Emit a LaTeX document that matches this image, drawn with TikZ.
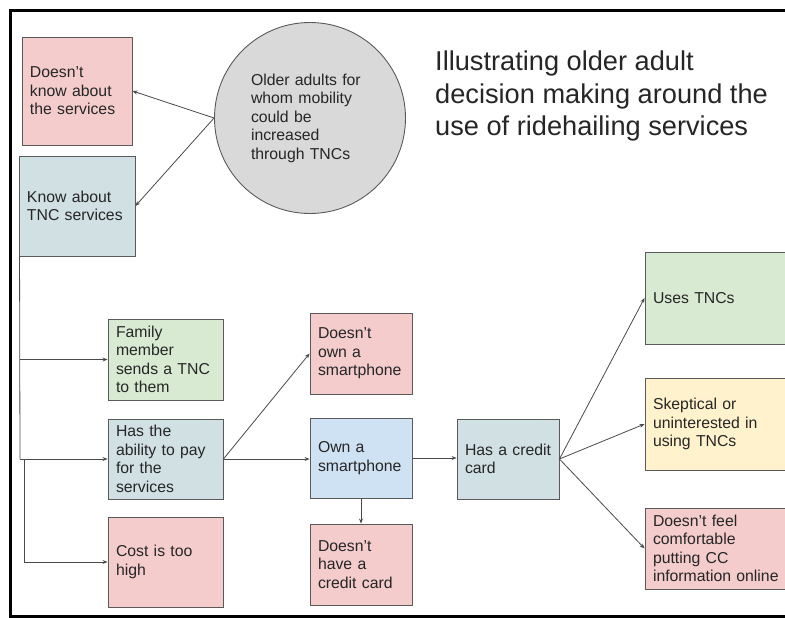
\documentclass[tikz,border=0pt]{standalone}
\usepackage{fontspec}
\setmainfont{Liberation Sans}
\usetikzlibrary{arrows.meta}
\definecolor{pinkf}{HTML}{F4CCCC}
\definecolor{grayblue}{HTML}{D0E0E3}
\definecolor{greenf}{HTML}{D9EAD3}
\definecolor{bluef}{HTML}{CFE2F3}
\definecolor{yellowf}{HTML}{FFF2CC}
\definecolor{circf}{HTML}{D9D9D9}
\definecolor{bordc}{HTML}{5A5A5A}
\definecolor{linec}{HTML}{4A4A4A}
\definecolor{textc}{HTML}{262626}
\begin{document}
\begin{tikzpicture}[x=1pt,y=-1pt,
  box/.style={draw=bordc, line width=0.9pt, rectangle, inner xsep=8pt, inner ysep=0pt,
    align=left, text=textc, font=\fontsize{15.8}{18.5}\selectfont},
  conn/.style={draw=linec, line width=0.8pt, -{Stealth[length=5pt,width=4pt]}},
  plainline/.style={draw=linec, line width=0.8pt}]
\useasboundingbox (0,0) rectangle (785,618);
\clip (0,0) rectangle (785,618);
\fill[white] (0,0) rectangle (785,618);

% frame
\draw[line width=3pt, black] (790,11) -- (10,11) -- (10,616) -- (790,616);

% circle and title
\node[draw=bordc, line width=0.9pt, fill=circf, circle, minimum size=191pt, inner sep=0pt,
  text width=118pt, align=left, text=textc, font=\fontsize{15.8}{18.5}\selectfont]
  (c) at (310,118) {Older adults for\\whom mobility\\could be\\increased\\through TNCs};
\node[anchor=west, align=left, inner sep=0pt, text=textc, font=\fontsize{27.2}{32.5}\selectfont]
  (title) at (435,96) {Illustrating older adult\\decision making around the\\use of ridehailing services};

% boxes
\node[box, fill=pinkf, minimum width=110pt, text width=94pt, minimum height=108pt]
  (dk) at (77,91) {Doesn’t\\know about\\the services};
\node[box, fill=grayblue, minimum width=116pt, text width=100pt, minimum height=100pt]
  (kn) at (77,206) {Know about\\TNC services};
\node[box, fill=greenf, minimum width=115pt, text width=99pt, minimum height=81pt]
  (fam) at (165.5,359.5) {Family\\member\\sends a TNC\\to them};
\node[box, fill=grayblue, minimum width=115pt, text width=99pt, minimum height=80pt]
  (abil) at (165.5,459) {Has the\\ability to pay\\for the\\services};
\node[box, fill=pinkf, minimum width=115pt, text width=99pt, minimum height=90pt]
  (cost) at (165.5,562) {Cost is too\\high};
\node[box, fill=pinkf, minimum width=102pt, text width=86pt, minimum height=81pt]
  (dos) at (361,353.5) {Doesn’t\\own a\\smartphone};
\node[box, fill=bluef, minimum width=102pt, text width=86pt, minimum height=80pt]
  (own) at (361,458) {Own a\\smartphone};
\node[box, fill=pinkf, minimum width=102pt, text width=86pt, minimum height=81pt]
  (dhc) at (361,564.5) {Doesn’t\\have a\\credit card};
\node[box, fill=grayblue, minimum width=102pt, text width=86pt, minimum height=80pt]
  (hcc) at (508,459) {\mbox{Has a credit}\\card};
\node[box, fill=greenf, minimum width=145pt, text width=129pt, minimum height=92pt]
  (uses) at (717.5,298) {Uses TNCs};
\node[box, fill=yellowf, minimum width=145pt, text width=129pt, minimum height=92pt]
  (skep) at (717.5,424) {Skeptical or\\uninterested in\\using TNCs};
\node[box, fill=pinkf, minimum width=145pt, text width=129pt, minimum height=81pt]
  (dfeel) at (717.5,548.5) {Doesn’t feel\\comfortable\\putting CC\\\mbox{information online}};

% connectors
\draw[conn] (c.west) -- (dk.east);
\draw[conn] (c.west) -- (kn.east);

\coordinate (jf) at (20,359.5);
\coordinate (ja) at (20,459);
\coordinate (jc) at (24,459);
\draw[plainline] ([xshift=1pt]kn.south west) -- (ja);
\draw[conn] (jf) -- (fam.west);
\draw[conn] (ja) -- (abil.west);
\draw[conn] (jc) |- (cost.west);

\draw[conn] (abil.east) -- (dos.west);
\draw[conn] (abil.east) -- (abil.east -| own.west);
\draw[conn] (own.south) -- (dhc.north);
\draw[conn] (own.east) -- (own.east -| hcc.west);
\draw[conn] (hcc.east) -- (uses.west);
\draw[conn] (hcc.east) -- (skep.west);
\draw[conn] (hcc.east) -- (dfeel.west);
\end{tikzpicture}
\end{document}
